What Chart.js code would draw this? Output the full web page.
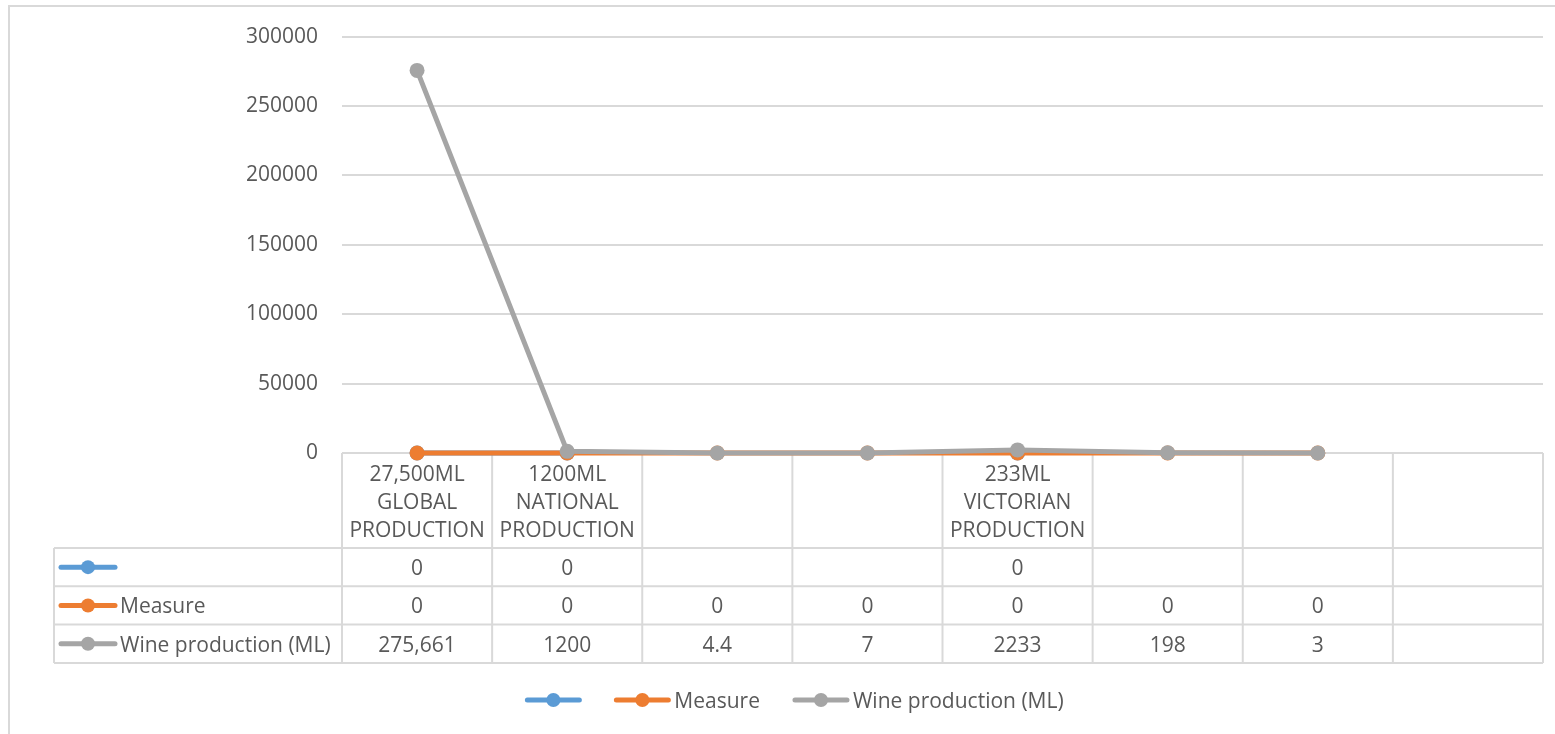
<!DOCTYPE html>
<html>
<head>
<meta charset="utf-8">
<title>Wine production (ML)</title>
<script src="https://cdn.jsdelivr.net/npm/chart.js@4.4.1/dist/chart.umd.min.js"></script>
<style>
  html, body { margin: 0; padding: 0; background: #ffffff; }
  #wrap { position: relative; width: 1555px; height: 734px; }
  canvas { display: block; }
</style>
</head>
<body>
<div id="wrap"><canvas id="chart" width="1555" height="734"></canvas></div>
<script>
// Category captions (multi-line), one per column of the data table
const categories = [
  ['27,500ML', 'GLOBAL', 'PRODUCTION'],
  ['1200ML', 'NATIONAL', 'PRODUCTION'],
  [''],
  [''],
  ['233ML', 'VICTORIAN', 'PRODUCTION'],
  [''],
  [''],
  ['']
];

// Series names and values
const seriesNames = ['', 'Measure', 'Wine production (ML)'];
const blankSeries = [0, 0, null, null, 0, null, null, null];
const measureSeries = [0, 0, 0, 0, 0, 0, 0, null];
const wineSeries = [275661, 1200, 4.4, 7, 2233, 198, 3, null];
// Thousands separator used for each wine value in the table
const wineGrouping = [true, false, false, false, false, false, false, false];

// Value axis ticks
const yTicks = [0, 50000, 100000, 150000, 200000, 250000, 300000];

const COLORS = ['#5b9bd5', '#ed7d31', '#a5a5a5'];
const TEXT = '#595959';
const GRID = '#d9d9d9';
const FONT = '"Open Sans", "Noto Sans", sans-serif';
const FSIZE = 21;

const fmt = (v, group) => v === null || v === undefined ? '' :
  v.toLocaleString('en-US', { useGrouping: !!group, maximumFractionDigits: 2 });

const tableRows = [
  blankSeries.map(v => fmt(v, false)),
  measureSeries.map(v => fmt(v, false)),
  wineSeries.map((v, i) => fmt(v, wineGrouping[i]))
];

function drawKey(ctx, x1, x2, y, color) {
  ctx.save();
  ctx.strokeStyle = color;
  ctx.lineWidth = 5;
  ctx.lineCap = 'round';
  ctx.beginPath();
  ctx.moveTo(x1, y);
  ctx.lineTo(x2, y);
  ctx.stroke();
  ctx.fillStyle = color;
  ctx.beginPath();
  ctx.arc((x1 + x2) / 2, y, 7, 0, Math.PI * 2);
  ctx.fill();
  ctx.restore();
}

// Draws the outer frame, the data table under the plot and the bottom legend
const tablePlugin = {
  id: 'dataTable',
  beforeDraw(chart) {
    const ctx = chart.ctx;
    ctx.save();
    ctx.fillStyle = '#ffffff';
    ctx.fillRect(0, 0, chart.width, chart.height);
    ctx.strokeStyle = GRID;
    ctx.lineWidth = 2;
    ctx.beginPath();
    ctx.moveTo(9, chart.height);
    ctx.lineTo(9, 6);
    ctx.lineTo(chart.width, 6);
    ctx.stroke();
    ctx.restore();
  },
  beforeDatasetsDraw(chart) {
    const ctx = chart.ctx;
    const x = chart.scales.x;
    const area = chart.chartArea;
    const n = categories.length;
    const colW = (area.right - area.left) / n;
    const top = area.bottom;
    const headerBottom = 548;
    const rowH = 38.3;
    const rowTops = [headerBottom, headerBottom + rowH, headerBottom + 2 * rowH];
    const bottom = headerBottom + 3 * rowH;
    const tableLeft = 54;

    ctx.save();
    ctx.strokeStyle = GRID;
    ctx.lineWidth = 2;
    ctx.beginPath();
    // horizontal rules
    ctx.moveTo(area.left, top); ctx.lineTo(area.right, top);
    rowTops.concat([bottom]).forEach(y => {
      ctx.moveTo(tableLeft, y); ctx.lineTo(area.right, y);
    });
    // vertical rules between columns
    for (let i = 0; i <= n; i++) {
      const vx = area.left + i * colW;
      ctx.moveTo(vx, top); ctx.lineTo(vx, bottom);
    }
    ctx.moveTo(tableLeft, headerBottom); ctx.lineTo(tableLeft, bottom);
    ctx.stroke();

    ctx.fillStyle = TEXT;
    ctx.font = FSIZE + 'px ' + FONT;
    ctx.textAlign = 'center';
    ctx.textBaseline = 'middle';
    // category captions
    const lineH = 28;
    categories.forEach((lines, i) => {
      const cx = x.getPixelForValue(i);
      const cy = (top + headerBottom) / 2;
      const start = cy - (lines.length - 1) * lineH / 2;
      lines.forEach((t, k) => ctx.fillText(t, cx, start + k * lineH + 2.5));
    });
    // series rows
    tableRows.forEach((row, r) => {
      const cy = rowTops[r] + rowH / 2;
      row.forEach((t, i) => {
        if (t !== '') ctx.fillText(t, x.getPixelForValue(i), cy + 2);
      });
      drawKey(ctx, 61, 115, cy, COLORS[r]);
      ctx.textAlign = 'left';
      ctx.fillText(seriesNames[r], 120, cy + 2);
      ctx.textAlign = 'center';
    });

    // bottom legend
    const ly = 700;
    ctx.textAlign = 'left';
    const keyW = 56, gap = 33, textGap = 4;
    const widths = seriesNames.map(name => keyW + (name ? textGap + ctx.measureText(name).width : 0));
    const total = widths.reduce((a, b) => a + b, 0) + gap * (seriesNames.length - 1);
    let lx = chart.width / 2 + 17 - total / 2;
    seriesNames.forEach((name, i) => {
      drawKey(ctx, lx + 2, lx + keyW - 2, ly, COLORS[i]);
      if (name) ctx.fillText(name, lx + keyW + textGap, ly + 2);
      lx += widths[i] + gap;
    });
    ctx.restore();
  }
};

// lower order draws on top: wine above measure above the blank series
const mkSet = (label, data, color, order) => ({
  label,
  data,
  order,
  borderColor: color,
  backgroundColor: color,
  pointBackgroundColor: color,
  pointBorderColor: color,
  pointRadius: 7.5,
  pointHoverRadius: 7.5,
  pointBorderWidth: 0,
  borderWidth: 5,
  tension: 0,
  spanGaps: false,
  clip: false
});

new Chart(document.getElementById('chart'), {
  type: 'line',
  data: {
    labels: categories,
    datasets: [
      mkSet(seriesNames[0], blankSeries, COLORS[0], 2),
      mkSet(seriesNames[1], measureSeries, COLORS[1], 1),
      mkSet(seriesNames[2], wineSeries, COLORS[2], 0)
    ]
  },
  options: {
    responsive: false,
    animation: false,
    layout: { padding: { top: 35, right: 12, bottom: 281, left: 0 } },
    plugins: { legend: { display: false }, tooltip: { enabled: false } },
    scales: {
      x: { display: false, offset: true },
      y: {
        min: yTicks[0],
        max: yTicks[yTicks.length - 1],
        afterBuildTicks(scale) { scale.ticks = yTicks.map(v => ({ value: v })); },
        afterFit(scale) { scale.width = 342; },
        border: { display: false },
        grid: { color: GRID, lineWidth: 2, drawTicks: false },
        ticks: {
          color: TEXT,
          padding: 24,
          font: { family: FONT, size: FSIZE },
          callback: v => String(v)
        }
      }
    }
  },
  plugins: [tablePlugin]
});
</script>
</body>
</html>
